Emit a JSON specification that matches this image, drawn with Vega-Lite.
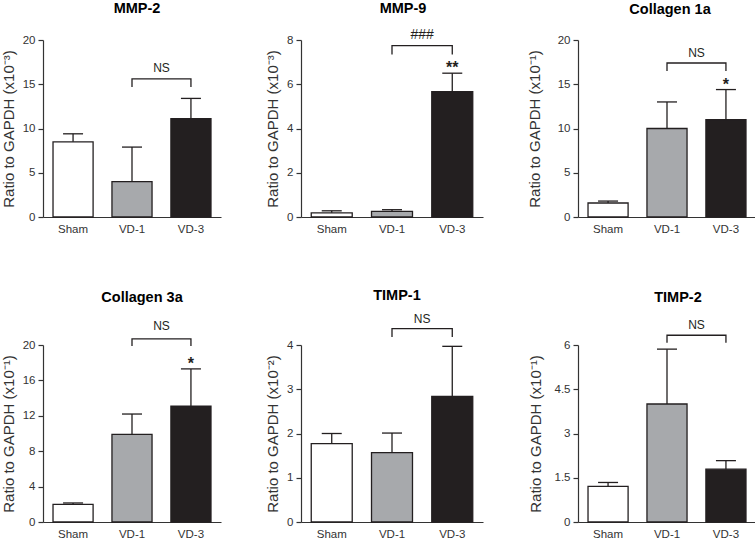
{
"$schema": "https://vega.github.io/schema/vega-lite/v6.json",
"background": "white",
"padding": {"left": 1, "top": 0, "right": 0, "bottom": 0},
"datasets": {
"bars": [
{"panel": "MMP-2", "group": "Sham", "mean": 8.5, "err": 9.4, "sig": ""},
{"panel": "MMP-2", "group": "VD-1", "mean": 4.0, "err": 7.9, "sig": ""},
{"panel": "MMP-2", "group": "VD-3", "mean": 11.1, "err": 13.4, "sig": ""},
{"panel": "MMP-9", "group": "Sham", "mean": 0.19, "err": 0.28, "sig": ""},
{"panel": "MMP-9", "group": "VD-1", "mean": 0.25, "err": 0.33, "sig": ""},
{"panel": "MMP-9", "group": "VD-3", "mean": 5.67, "err": 6.5, "sig": "**"},
{"panel": "Collagen 1a", "group": "Sham", "mean": 1.58, "err": 1.8, "sig": ""},
{"panel": "Collagen 1a", "group": "VD-1", "mean": 10.0, "err": 13.0, "sig": ""},
{"panel": "Collagen 1a", "group": "VD-3", "mean": 11.0, "err": 14.4, "sig": "*"},
{"panel": "Collagen 3a", "group": "Sham", "mean": 2.0, "err": 2.15, "sig": ""},
{"panel": "Collagen 3a", "group": "VD-1", "mean": 9.9, "err": 12.2, "sig": ""},
{"panel": "Collagen 3a", "group": "VD-3", "mean": 13.1, "err": 17.3, "sig": "*"},
{"panel": "TIMP-1", "group": "Sham", "mean": 1.77, "err": 2.0, "sig": ""},
{"panel": "TIMP-1", "group": "VD-1", "mean": 1.57, "err": 2.01, "sig": ""},
{"panel": "TIMP-1", "group": "VD-3", "mean": 2.84, "err": 3.97, "sig": ""},
{"panel": "TIMP-2", "group": "Sham", "mean": 1.21, "err": 1.34, "sig": ""},
{"panel": "TIMP-2", "group": "VD-1", "mean": 4.0, "err": 5.86, "sig": ""},
{"panel": "TIMP-2", "group": "VD-3", "mean": 1.79, "err": 2.08, "sig": ""}
],
"brackets": [
{"panel": "MMP-2", "group": "VD-1", "y": 14.7, "ord": 1},
{"panel": "MMP-2", "group": "VD-1", "y": 15.6, "ord": 2},
{"panel": "MMP-2", "group": "VD-3", "y": 15.6, "ord": 3},
{"panel": "MMP-2", "group": "VD-3", "y": 14.7, "ord": 4},
{"panel": "MMP-9", "group": "VD-1", "y": 7.35, "ord": 1},
{"panel": "MMP-9", "group": "VD-1", "y": 7.75, "ord": 2},
{"panel": "MMP-9", "group": "VD-3", "y": 7.75, "ord": 3},
{"panel": "MMP-9", "group": "VD-3", "y": 7.35, "ord": 4},
{"panel": "Collagen 1a", "group": "VD-1", "y": 16.5, "ord": 1},
{"panel": "Collagen 1a", "group": "VD-1", "y": 17.4, "ord": 2},
{"panel": "Collagen 1a", "group": "VD-3", "y": 17.4, "ord": 3},
{"panel": "Collagen 1a", "group": "VD-3", "y": 16.5, "ord": 4},
{"panel": "Collagen 3a", "group": "VD-1", "y": 19.9, "ord": 1},
{"panel": "Collagen 3a", "group": "VD-1", "y": 20.7, "ord": 2},
{"panel": "Collagen 3a", "group": "VD-3", "y": 20.7, "ord": 3},
{"panel": "Collagen 3a", "group": "VD-3", "y": 19.9, "ord": 4},
{"panel": "TIMP-1", "group": "VD-1", "y": 4.18, "ord": 1},
{"panel": "TIMP-1", "group": "VD-1", "y": 4.37, "ord": 2},
{"panel": "TIMP-1", "group": "VD-3", "y": 4.37, "ord": 3},
{"panel": "TIMP-1", "group": "VD-3", "y": 4.18, "ord": 4},
{"panel": "TIMP-2", "group": "VD-1", "y": 6.08, "ord": 1},
{"panel": "TIMP-2", "group": "VD-1", "y": 6.33, "ord": 2},
{"panel": "TIMP-2", "group": "VD-3", "y": 6.33, "ord": 3},
{"panel": "TIMP-2", "group": "VD-3", "y": 6.08, "ord": 4}
],
"notes": [
{"panel": "MMP-2", "group": "VD-1", "y": 16.8, "text": "NS"},
{"panel": "MMP-9", "group": "VD-1", "y": 8.23, "text": "###"},
{"panel": "Collagen 1a", "group": "VD-1", "y": 18.5, "text": "NS"},
{"panel": "Collagen 3a", "group": "VD-1", "y": 22.1, "text": "NS"},
{"panel": "TIMP-1", "group": "VD-1", "y": 4.59, "text": "NS"},
{"panel": "TIMP-2", "group": "VD-1", "y": 6.69, "text": "NS"}
]
},
"columns": 3,
"spacing": {"row": 53, "column": 44},
"concat": [
{
"title": {"text": "MMP-2", "offset": 18, "dx": 5},
"width": 178, "height": 177,
"encoding": {"x": {"field": "group", "type": "nominal", "title": null, "sort": ["Sham", "VD-1", "VD-3"], "scale": {"domain": ["Sham", "VD-1", "VD-3"], "paddingInner": 0.32, "paddingOuter": 0.17}}},
"layer": [
{"data": {"name": "bars"}, "transform": [{"filter": "datum.panel === 'MMP-2'"}], "mark": {"type": "bar", "stroke": "#231f20", "strokeWidth": 1.3},
 "encoding": {"y": {"field": "mean", "type": "quantitative", "scale": {"domain": [0, 20], "nice": false}, "axis": {"title": "Ratio to GAPDH (x10⁻³)", "values": [0, 5, 10, 15, 20], "format": ".2~g"}},
  "fill": {"field": "group", "type": "nominal", "scale": {"domain": ["Sham", "VD-1", "VD-3"], "range": ["#ffffff", "#a7a9ac", "#231f20"]}, "legend": null}}},
{"data": {"name": "bars"}, "transform": [{"filter": "datum.panel === 'MMP-2'"}], "mark": {"type": "rule", "color": "#231f20", "strokeWidth": 1.3},
 "encoding": {"y": {"field": "mean", "type": "quantitative", "scale": {"domain": [0, 20], "nice": false}, "axis": {"title": "Ratio to GAPDH (x10⁻³)", "values": [0, 5, 10, 15, 20], "format": ".2~g"}}, "y2": {"field": "err"}}},
{"data": {"name": "bars"}, "transform": [{"filter": "datum.panel === 'MMP-2'"}], "mark": {"type": "tick", "orient": "horizontal", "size": 20, "thickness": 1.3, "color": "#231f20", "opacity": 1},
 "encoding": {"y": {"field": "err", "type": "quantitative", "scale": {"domain": [0, 20], "nice": false}, "axis": {"title": "Ratio to GAPDH (x10⁻³)", "values": [0, 5, 10, 15, 20], "format": ".2~g"}}}},
{"data": {"name": "brackets"}, "transform": [{"filter": "datum.panel === 'MMP-2'"}], "mark": {"type": "line", "color": "#231f20", "strokeWidth": 1.3},
 "encoding": {"y": {"field": "y", "type": "quantitative", "scale": {"domain": [0, 20], "nice": false}, "axis": {"title": "Ratio to GAPDH (x10⁻³)", "values": [0, 5, 10, 15, 20], "format": ".2~g"}}, "order": {"field": "ord"}}},
{"data": {"name": "notes"}, "transform": [{"filter": "datum.panel === 'MMP-2'"}], "mark": {"type": "text", "dx": 29.5, "baseline": "middle", "fontSize": 12, "color": "#231f20"},
 "encoding": {"y": {"field": "y", "type": "quantitative", "scale": {"domain": [0, 20], "nice": false}, "axis": {"title": "Ratio to GAPDH (x10⁻³)", "values": [0, 5, 10, 15, 20], "format": ".2~g"}}, "text": {"field": "text"}}}
]
},
{
"title": {"text": "MMP-9", "offset": 11, "dx": 11},
"width": 182, "height": 177,
"encoding": {"x": {"field": "group", "type": "nominal", "title": null, "sort": ["Sham", "VD-1", "VD-3"], "scale": {"domain": ["Sham", "VD-1", "VD-3"], "paddingInner": 0.32, "paddingOuter": 0.17}}},
"layer": [
{"data": {"name": "bars"}, "transform": [{"filter": "datum.panel === 'MMP-9'"}], "mark": {"type": "bar", "stroke": "#231f20", "strokeWidth": 1.3},
 "encoding": {"y": {"field": "mean", "type": "quantitative", "scale": {"domain": [0, 8], "nice": false}, "axis": {"title": "Ratio to GAPDH (x10⁻³)", "values": [0, 2, 4, 6, 8], "format": ".2~g"}},
  "fill": {"field": "group", "type": "nominal", "scale": {"domain": ["Sham", "VD-1", "VD-3"], "range": ["#ffffff", "#a7a9ac", "#231f20"]}, "legend": null}}},
{"data": {"name": "bars"}, "transform": [{"filter": "datum.panel === 'MMP-9'"}], "mark": {"type": "rule", "color": "#231f20", "strokeWidth": 1.3},
 "encoding": {"y": {"field": "mean", "type": "quantitative", "scale": {"domain": [0, 8], "nice": false}, "axis": {"title": "Ratio to GAPDH (x10⁻³)", "values": [0, 2, 4, 6, 8], "format": ".2~g"}}, "y2": {"field": "err"}}},
{"data": {"name": "bars"}, "transform": [{"filter": "datum.panel === 'MMP-9'"}], "mark": {"type": "tick", "orient": "horizontal", "size": 20, "thickness": 1.3, "color": "#231f20", "opacity": 1},
 "encoding": {"y": {"field": "err", "type": "quantitative", "scale": {"domain": [0, 8], "nice": false}, "axis": {"title": "Ratio to GAPDH (x10⁻³)", "values": [0, 2, 4, 6, 8], "format": ".2~g"}}}},
{"data": {"name": "bars"}, "transform": [{"filter": "datum.panel === 'MMP-9'"}], "mark": {"type": "text", "baseline": "alphabetic", "fontSize": 16, "fontWeight": "bold", "color": "#231f20"},
 "encoding": {"y": {"field": "err", "type": "quantitative", "scale": {"domain": [0, 8], "nice": false}, "axis": {"title": "Ratio to GAPDH (x10⁻³)", "values": [0, 2, 4, 6, 8], "format": ".2~g"}}, "text": {"field": "sig"}}},
{"data": {"name": "brackets"}, "transform": [{"filter": "datum.panel === 'MMP-9'"}], "mark": {"type": "line", "color": "#231f20", "strokeWidth": 1.3},
 "encoding": {"y": {"field": "y", "type": "quantitative", "scale": {"domain": [0, 8], "nice": false}, "axis": {"title": "Ratio to GAPDH (x10⁻³)", "values": [0, 2, 4, 6, 8], "format": ".2~g"}}, "order": {"field": "ord"}}},
{"data": {"name": "notes"}, "transform": [{"filter": "datum.panel === 'MMP-9'"}], "mark": {"type": "text", "dx": 30.1, "baseline": "middle", "fontSize": 14, "color": "#231f20"},
 "encoding": {"y": {"field": "y", "type": "quantitative", "scale": {"domain": [0, 8], "nice": false}, "axis": {"title": "Ratio to GAPDH (x10⁻³)", "values": [0, 2, 4, 6, 8], "format": ".2~g"}}, "text": {"field": "text"}}}
]
},
{
"title": {"text": "Collagen 1a", "offset": 17, "dx": 3},
"width": 178, "height": 177,
"encoding": {"x": {"field": "group", "type": "nominal", "title": null, "sort": ["Sham", "VD-1", "VD-3"], "scale": {"domain": ["Sham", "VD-1", "VD-3"], "paddingInner": 0.32, "paddingOuter": 0.17}}},
"layer": [
{"data": {"name": "bars"}, "transform": [{"filter": "datum.panel === 'Collagen 1a'"}], "mark": {"type": "bar", "stroke": "#231f20", "strokeWidth": 1.3},
 "encoding": {"y": {"field": "mean", "type": "quantitative", "scale": {"domain": [0, 20], "nice": false}, "axis": {"title": "Ratio to GAPDH (x10⁻¹)", "values": [0, 5, 10, 15, 20], "format": ".2~g", "titlePadding": 15}},
  "fill": {"field": "group", "type": "nominal", "scale": {"domain": ["Sham", "VD-1", "VD-3"], "range": ["#ffffff", "#a7a9ac", "#231f20"]}, "legend": null}}},
{"data": {"name": "bars"}, "transform": [{"filter": "datum.panel === 'Collagen 1a'"}], "mark": {"type": "rule", "color": "#231f20", "strokeWidth": 1.3},
 "encoding": {"y": {"field": "mean", "type": "quantitative", "scale": {"domain": [0, 20], "nice": false}, "axis": {"title": "Ratio to GAPDH (x10⁻¹)", "values": [0, 5, 10, 15, 20], "format": ".2~g", "titlePadding": 15}}, "y2": {"field": "err"}}},
{"data": {"name": "bars"}, "transform": [{"filter": "datum.panel === 'Collagen 1a'"}], "mark": {"type": "tick", "orient": "horizontal", "size": 20, "thickness": 1.3, "color": "#231f20", "opacity": 1},
 "encoding": {"y": {"field": "err", "type": "quantitative", "scale": {"domain": [0, 20], "nice": false}, "axis": {"title": "Ratio to GAPDH (x10⁻¹)", "values": [0, 5, 10, 15, 20], "format": ".2~g", "titlePadding": 15}}}},
{"data": {"name": "bars"}, "transform": [{"filter": "datum.panel === 'Collagen 1a'"}], "mark": {"type": "text", "baseline": "alphabetic", "fontSize": 16, "fontWeight": "bold", "color": "#231f20"},
 "encoding": {"y": {"field": "err", "type": "quantitative", "scale": {"domain": [0, 20], "nice": false}, "axis": {"title": "Ratio to GAPDH (x10⁻¹)", "values": [0, 5, 10, 15, 20], "format": ".2~g", "titlePadding": 15}}, "text": {"field": "sig"}}},
{"data": {"name": "brackets"}, "transform": [{"filter": "datum.panel === 'Collagen 1a'"}], "mark": {"type": "line", "color": "#231f20", "strokeWidth": 1.3},
 "encoding": {"y": {"field": "y", "type": "quantitative", "scale": {"domain": [0, 20], "nice": false}, "axis": {"title": "Ratio to GAPDH (x10⁻¹)", "values": [0, 5, 10, 15, 20], "format": ".2~g", "titlePadding": 15}}, "order": {"field": "ord"}}},
{"data": {"name": "notes"}, "transform": [{"filter": "datum.panel === 'Collagen 1a'"}], "mark": {"type": "text", "dx": 29.5, "baseline": "middle", "fontSize": 12, "color": "#231f20"},
 "encoding": {"y": {"field": "y", "type": "quantitative", "scale": {"domain": [0, 20], "nice": false}, "axis": {"title": "Ratio to GAPDH (x10⁻¹)", "values": [0, 5, 10, 15, 20], "format": ".2~g", "titlePadding": 15}}, "text": {"field": "text"}}}
]
},
{
"title": {"text": "Collagen 3a", "offset": 15, "dx": 10},
"width": 178, "height": 177,
"encoding": {"x": {"field": "group", "type": "nominal", "title": null, "sort": ["Sham", "VD-1", "VD-3"], "scale": {"domain": ["Sham", "VD-1", "VD-3"], "paddingInner": 0.32, "paddingOuter": 0.17}}},
"layer": [
{"data": {"name": "bars"}, "transform": [{"filter": "datum.panel === 'Collagen 3a'"}], "mark": {"type": "bar", "stroke": "#231f20", "strokeWidth": 1.3},
 "encoding": {"y": {"field": "mean", "type": "quantitative", "scale": {"domain": [0, 20], "nice": false}, "axis": {"title": "Ratio to GAPDH (x10⁻¹)", "values": [0, 4, 8, 12, 16, 20], "format": ".2~g"}},
  "fill": {"field": "group", "type": "nominal", "scale": {"domain": ["Sham", "VD-1", "VD-3"], "range": ["#ffffff", "#a7a9ac", "#231f20"]}, "legend": null}}},
{"data": {"name": "bars"}, "transform": [{"filter": "datum.panel === 'Collagen 3a'"}], "mark": {"type": "rule", "color": "#231f20", "strokeWidth": 1.3},
 "encoding": {"y": {"field": "mean", "type": "quantitative", "scale": {"domain": [0, 20], "nice": false}, "axis": {"title": "Ratio to GAPDH (x10⁻¹)", "values": [0, 4, 8, 12, 16, 20], "format": ".2~g"}}, "y2": {"field": "err"}}},
{"data": {"name": "bars"}, "transform": [{"filter": "datum.panel === 'Collagen 3a'"}], "mark": {"type": "tick", "orient": "horizontal", "size": 20, "thickness": 1.3, "color": "#231f20", "opacity": 1},
 "encoding": {"y": {"field": "err", "type": "quantitative", "scale": {"domain": [0, 20], "nice": false}, "axis": {"title": "Ratio to GAPDH (x10⁻¹)", "values": [0, 4, 8, 12, 16, 20], "format": ".2~g"}}}},
{"data": {"name": "bars"}, "transform": [{"filter": "datum.panel === 'Collagen 3a'"}], "mark": {"type": "text", "baseline": "alphabetic", "fontSize": 16, "fontWeight": "bold", "color": "#231f20"},
 "encoding": {"y": {"field": "err", "type": "quantitative", "scale": {"domain": [0, 20], "nice": false}, "axis": {"title": "Ratio to GAPDH (x10⁻¹)", "values": [0, 4, 8, 12, 16, 20], "format": ".2~g"}}, "text": {"field": "sig"}}},
{"data": {"name": "brackets"}, "transform": [{"filter": "datum.panel === 'Collagen 3a'"}], "mark": {"type": "line", "color": "#231f20", "strokeWidth": 1.3},
 "encoding": {"y": {"field": "y", "type": "quantitative", "scale": {"domain": [0, 20], "nice": false}, "axis": {"title": "Ratio to GAPDH (x10⁻¹)", "values": [0, 4, 8, 12, 16, 20], "format": ".2~g"}}, "order": {"field": "ord"}}},
{"data": {"name": "notes"}, "transform": [{"filter": "datum.panel === 'Collagen 3a'"}], "mark": {"type": "text", "dx": 29.5, "baseline": "middle", "fontSize": 12, "color": "#231f20"},
 "encoding": {"y": {"field": "y", "type": "quantitative", "scale": {"domain": [0, 20], "nice": false}, "axis": {"title": "Ratio to GAPDH (x10⁻¹)", "values": [0, 4, 8, 12, 16, 20], "format": ".2~g"}}, "text": {"field": "text"}}}
]
},
{
"title": {"text": "TIMP-1", "offset": 9, "dx": 5},
"width": 182, "height": 177,
"encoding": {"x": {"field": "group", "type": "nominal", "title": null, "sort": ["Sham", "VD-1", "VD-3"], "scale": {"domain": ["Sham", "VD-1", "VD-3"], "paddingInner": 0.32, "paddingOuter": 0.17}}},
"layer": [
{"data": {"name": "bars"}, "transform": [{"filter": "datum.panel === 'TIMP-1'"}], "mark": {"type": "bar", "stroke": "#231f20", "strokeWidth": 1.3},
 "encoding": {"y": {"field": "mean", "type": "quantitative", "scale": {"domain": [0, 4], "nice": false}, "axis": {"title": "Ratio to GAPDH (x10⁻²)", "values": [0, 1, 2, 3, 4], "format": ".2~g"}},
  "fill": {"field": "group", "type": "nominal", "scale": {"domain": ["Sham", "VD-1", "VD-3"], "range": ["#ffffff", "#a7a9ac", "#231f20"]}, "legend": null}}},
{"data": {"name": "bars"}, "transform": [{"filter": "datum.panel === 'TIMP-1'"}], "mark": {"type": "rule", "color": "#231f20", "strokeWidth": 1.3},
 "encoding": {"y": {"field": "mean", "type": "quantitative", "scale": {"domain": [0, 4], "nice": false}, "axis": {"title": "Ratio to GAPDH (x10⁻²)", "values": [0, 1, 2, 3, 4], "format": ".2~g"}}, "y2": {"field": "err"}}},
{"data": {"name": "bars"}, "transform": [{"filter": "datum.panel === 'TIMP-1'"}], "mark": {"type": "tick", "orient": "horizontal", "size": 20, "thickness": 1.3, "color": "#231f20", "opacity": 1},
 "encoding": {"y": {"field": "err", "type": "quantitative", "scale": {"domain": [0, 4], "nice": false}, "axis": {"title": "Ratio to GAPDH (x10⁻²)", "values": [0, 1, 2, 3, 4], "format": ".2~g"}}}},
{"data": {"name": "brackets"}, "transform": [{"filter": "datum.panel === 'TIMP-1'"}], "mark": {"type": "line", "color": "#231f20", "strokeWidth": 1.3},
 "encoding": {"y": {"field": "y", "type": "quantitative", "scale": {"domain": [0, 4], "nice": false}, "axis": {"title": "Ratio to GAPDH (x10⁻²)", "values": [0, 1, 2, 3, 4], "format": ".2~g"}}, "order": {"field": "ord"}}},
{"data": {"name": "notes"}, "transform": [{"filter": "datum.panel === 'TIMP-1'"}], "mark": {"type": "text", "dx": 30.1, "baseline": "middle", "fontSize": 12, "color": "#231f20"},
 "encoding": {"y": {"field": "y", "type": "quantitative", "scale": {"domain": [0, 4], "nice": false}, "axis": {"title": "Ratio to GAPDH (x10⁻²)", "values": [0, 1, 2, 3, 4], "format": ".2~g"}}, "text": {"field": "text"}}}
]
},
{
"title": {"text": "TIMP-2", "offset": 13, "dx": 11},
"width": 178, "height": 177,
"encoding": {"x": {"field": "group", "type": "nominal", "title": null, "sort": ["Sham", "VD-1", "VD-3"], "scale": {"domain": ["Sham", "VD-1", "VD-3"], "paddingInner": 0.32, "paddingOuter": 0.17}}},
"layer": [
{"data": {"name": "bars"}, "transform": [{"filter": "datum.panel === 'TIMP-2'"}], "mark": {"type": "bar", "stroke": "#231f20", "strokeWidth": 1.3},
 "encoding": {"y": {"field": "mean", "type": "quantitative", "scale": {"domain": [0, 6], "nice": false}, "axis": {"title": "Ratio to GAPDH (x10⁻¹)", "values": [0, 1.5, 3, 4.5, 6], "format": ".2~g", "titlePadding": 11}},
  "fill": {"field": "group", "type": "nominal", "scale": {"domain": ["Sham", "VD-1", "VD-3"], "range": ["#ffffff", "#a7a9ac", "#231f20"]}, "legend": null}}},
{"data": {"name": "bars"}, "transform": [{"filter": "datum.panel === 'TIMP-2'"}], "mark": {"type": "rule", "color": "#231f20", "strokeWidth": 1.3},
 "encoding": {"y": {"field": "mean", "type": "quantitative", "scale": {"domain": [0, 6], "nice": false}, "axis": {"title": "Ratio to GAPDH (x10⁻¹)", "values": [0, 1.5, 3, 4.5, 6], "format": ".2~g", "titlePadding": 11}}, "y2": {"field": "err"}}},
{"data": {"name": "bars"}, "transform": [{"filter": "datum.panel === 'TIMP-2'"}], "mark": {"type": "tick", "orient": "horizontal", "size": 20, "thickness": 1.3, "color": "#231f20", "opacity": 1},
 "encoding": {"y": {"field": "err", "type": "quantitative", "scale": {"domain": [0, 6], "nice": false}, "axis": {"title": "Ratio to GAPDH (x10⁻¹)", "values": [0, 1.5, 3, 4.5, 6], "format": ".2~g", "titlePadding": 11}}}},
{"data": {"name": "brackets"}, "transform": [{"filter": "datum.panel === 'TIMP-2'"}], "mark": {"type": "line", "color": "#231f20", "strokeWidth": 1.3},
 "encoding": {"y": {"field": "y", "type": "quantitative", "scale": {"domain": [0, 6], "nice": false}, "axis": {"title": "Ratio to GAPDH (x10⁻¹)", "values": [0, 1.5, 3, 4.5, 6], "format": ".2~g", "titlePadding": 11}}, "order": {"field": "ord"}}},
{"data": {"name": "notes"}, "transform": [{"filter": "datum.panel === 'TIMP-2'"}], "mark": {"type": "text", "dx": 29.5, "baseline": "middle", "fontSize": 12, "color": "#231f20"},
 "encoding": {"y": {"field": "y", "type": "quantitative", "scale": {"domain": [0, 6], "nice": false}, "axis": {"title": "Ratio to GAPDH (x10⁻¹)", "values": [0, 1.5, 3, 4.5, 6], "format": ".2~g", "titlePadding": 11}}, "text": {"field": "text"}}}
]
}
],
"config": {
"font": "Liberation Sans",
"view": {"stroke": null},
"axis": {"grid": false, "domainColor": "#333333", "domainWidth": 1.2, "tickColor": "#333333", "tickWidth": 1.2, "labelColor": "#333333", "labelFontSize": 11.5, "titleColor": "#333333", "titleFontSize": 15, "titleFontWeight": "normal"},
"axisX": {"ticks": false, "labelAngle": 0, "labelPadding": 6},
"axisY": {"tickSize": 5, "labelPadding": 3, "titlePadding": 6},
"title": {"fontSize": 14.5, "fontWeight": "bold", "color": "#000000", "frame": "group", "anchor": "middle"}
}
}
